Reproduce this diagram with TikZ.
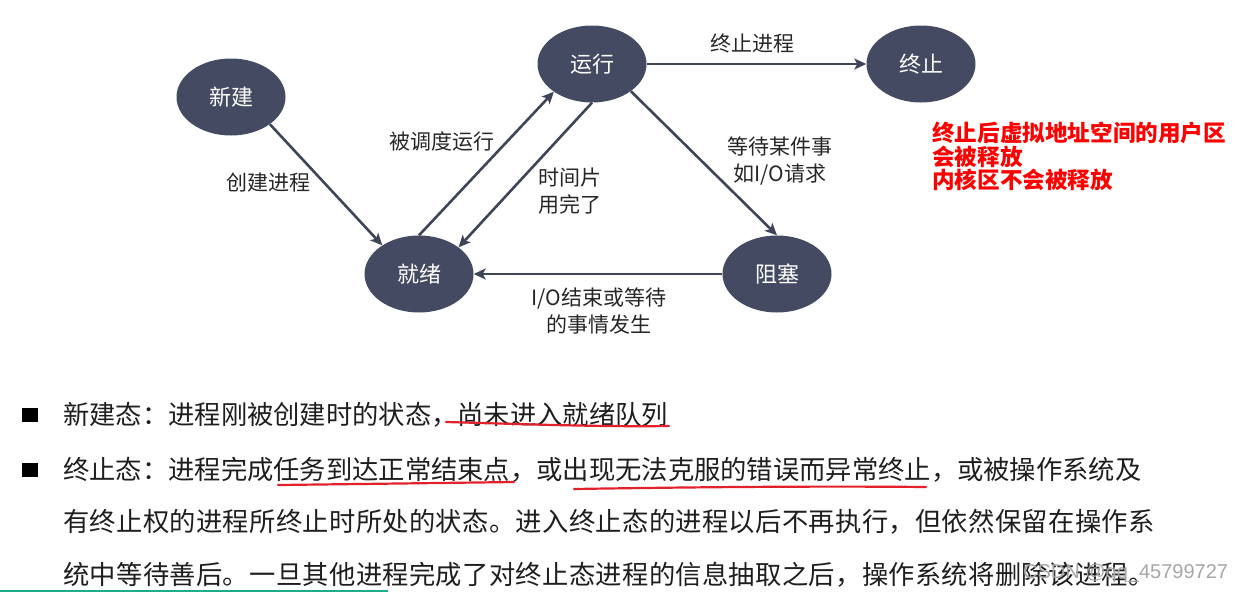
\documentclass[tikz,border=0pt]{standalone}
\usepackage{fontspec}
\setmainfont{Noto Sans CJK SC}
\newfontfamily\wmfont{Liberation Sans}
\usetikzlibrary{shapes.geometric,arrows.meta}
\definecolor{nodefill}{HTML}{434A62}
\definecolor{arrowc}{HTML}{3E4558}
\definecolor{labelc}{HTML}{262626}
\definecolor{bodyc}{HTML}{1E1E1E}
\definecolor{notered}{HTML}{FF0000}
\definecolor{penred}{HTML}{E3212B}
\definecolor{teal}{HTML}{1AAE8F}
\begin{document}
\begin{tikzpicture}[x=1pt,y=-1pt,
  state/.style={ellipse, fill=nodefill, minimum width=109pt, minimum height=77pt, inner sep=0pt, text=white, font=\fontsize{22}{26}\selectfont},
  trans/.style={draw=arrowc, line width=2.6pt, -{Stealth[length=12pt,width=11pt,inset=3pt]}},
  lbl/.style={text=labelc, font=\fontsize{21}{27}\selectfont, align=center, inner sep=0pt},
  body/.style={anchor=west, inner sep=0pt, text=bodyc, font=\fontsize{26.3}{30}\selectfont},
  bodywide/.style={body, font=\fontsize{26.3}{30}\selectfont\addfontfeature{LetterSpace=1.25}},
  bulletbox/.style={rectangle, fill=black, minimum width=16pt, minimum height=14pt, inner sep=0pt},
  pen/.style={draw=penred, line width=2.2pt, line cap=round}
]
\useasboundingbox (0,0) rectangle (1237,592);

% states
\node[state] (new)  at (231,97)  {新建};
\node[state] (run)  at (592,64)  {运行};
\node[state] (term) at (921,64)  {终止};
\node[state] (ready) at (419,274) {就绪};
\node[state] (block) at (777,274) {阻塞};

% transitions
\draw[trans] (new.-35) -- (ready.142);
\draw[trans] (ready.north) -- (run.216);
\draw[trans] (run.south) -- (ready.34);
\draw[trans] (run.east) -- (term.west);
\draw[trans] (run.-35) -- (block.north);
\draw[trans] (block.west) -- (ready.east);

% labels
\node[lbl] (l1) at (268,183) {创建进程};
\node[lbl] (l2) at (442,142) {被调度运行};
\node[lbl] (l3) at (570,191) {时间片\\用完了};
\node[lbl] (l4) at (752,43)  {终止进程};
\node[lbl] (l5) at (780,161) {等待某件事\\如I/O请求};
\node[lbl] (l6) at (599,311) {I/O结束或等待\\的事情发生};

% red note
\node[anchor=west, inner sep=0pt, align=left, text=notered, font=\bfseries\fontsize{22.6}{23.2}\selectfont] (note) at (932,156.5)
  {终止后虚拟地址空间的用户区\\会被释放\\内核区不会被释放};

% bullets and body text
\node[bulletbox] (b1) at (30,415) {};
\node[bulletbox] (b2) at (30,470) {};
\node[body] (t1) at (63,415) {新建态：进程刚被创建时的状态，尚未进入就绪队列};
\node[body] (t2) at (63,470) {终止态：进程完成任务到达正常结束点，或出现无法克服的错误而异常终止，或被操作系统及};
\node[bodywide] (t3) at (63,522) {有终止权的进程所终止时所处的状态。进入终止态的进程以后不再执行，但依然保留在操作系};
\node[bodywide] (t4) at (63,575) {统中等待善后。一旦其他进程完成了对终止态进程的信息抽取之后，操作系统将删除该进程。};

% hand-drawn underlines
\draw[pen] (446,422) .. controls (520,424) and (600,427) .. (669,426);
\draw[pen] (278,485) .. controls (360,484) and (440,483) .. (514,482);
\draw[pen] (574,489) .. controls (700,487) and (820,486) .. (926,487);

% bottom teal line
\draw[teal, line width=2.5pt] (0,591) -- (388,591);

% watermark
\node[anchor=west, inner sep=0pt, text=black!35, font=\wmfont\fontsize{20}{22}\selectfont] (wm) at (1023,573) {CSDN @qq\_45799727};
\end{tikzpicture}
\end{document}
